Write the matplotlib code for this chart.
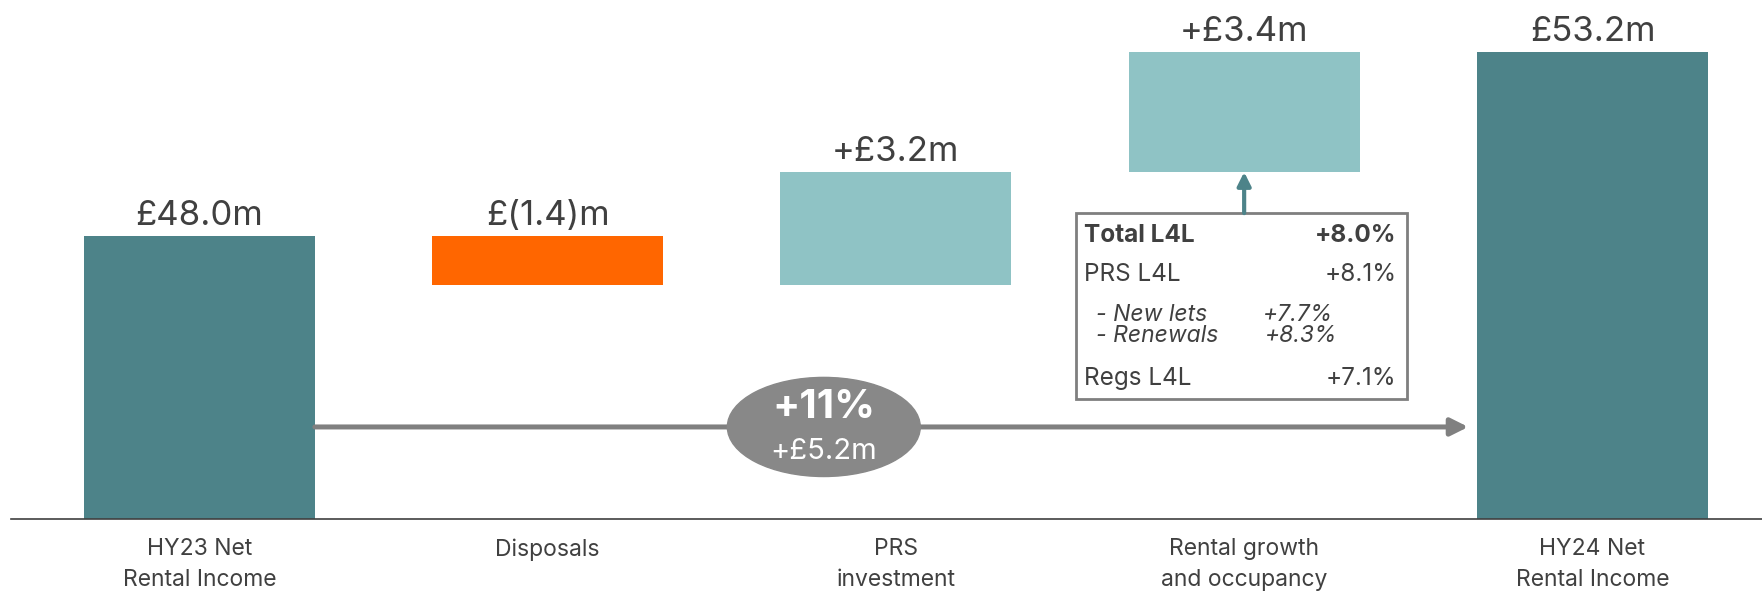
import numpy as np
import matplotlib.pyplot as plt
from matplotlib.patches import Ellipse, Rectangle

# Data
categories = ['HY23 Net\nRental Income', 'Disposals', 'PRS\ninvestment',
              'Rental growth\nand occupancy', 'HY24 Net\nRental Income']
changes = [48.0, -1.4, 3.2, 3.4, 53.2]
is_total = [True, False, False, False, True]
value_labels = ['£48.0m', '£(1.4)m', '+£3.2m', '+£3.4m', '£53.2m']

growth_pct = '+11%'
growth_abs = '+£5.2m'

l4l_rows = ['Total L4L', 'PRS L4L', 'Regs L4L']
l4l_values = ['+8.0%', '+8.1%', '+7.1%']
prs_sub_rows = ['- New lets', '- Renewals']
prs_sub_values = ['+7.7%', '+8.3%']

# Colours
dark_teal = '#4D8389'
light_teal = '#8FC3C5'
orange = '#FF6600'
grey = '#888888'
text_col = '#404040'

plt.rcParams['font.family'] = ['Inter', 'DejaVu Sans']

fig = plt.figure(figsize=(17.62, 5.93), dpi=100)
ax = fig.add_axes([11 / 1762, 74 / 593, 1 - 11 / 1762, 1 - 74 / 593])

x = np.arange(len(categories))
width = 0.663

# Waterfall bottoms/tops
bottoms, tops = [], []
running = 0.0
for val, tot in zip(changes, is_total):
    if tot:
        bottoms.append(40.0)
        tops.append(val)
        running = val
    else:
        new = running + val
        bottoms.append(min(running, new))
        tops.append(max(running, new))
        running = new

colors = []
for val, tot in zip(changes, is_total):
    if tot:
        colors.append(dark_teal)
    elif val < 0:
        colors.append(orange)
    else:
        colors.append(light_teal)

heights = [t - b for t, b in zip(tops, bottoms)]
ax.bar(x, heights, width, bottom=bottoms, color=colors, zorder=2)

for xi, t, lab in zip(x, tops, value_labels):
    ax.annotate(lab, (xi, t), xytext=(0, 3), textcoords='offset points',
                ha='center', va='bottom', fontsize=25, color=text_col)

# Growth arrow from first total to last total
arrow_y = 42.6
ax.annotate('', xy=(x[-1] - width / 2 - 0.025, arrow_y),
            xytext=(x[0] + width / 2, arrow_y),
            arrowprops=dict(arrowstyle='-|>', color='#808080', lw=3.6,
                            mutation_scale=26, shrinkA=0, shrinkB=0),
            zorder=3)
ell = Ellipse((1.793, arrow_y), 0.554, 2.8, color=grey, zorder=4)
ax.add_patch(ell)
ax.text(1.793, arrow_y + 0.55, growth_pct, ha='center', va='center',
        fontsize=29, fontweight='bold', color='white', zorder=5)
ax.text(1.793, arrow_y - 0.68, growth_abs, ha='center', va='center',
        fontsize=21, color='white', zorder=5)

# L4L box
box_x0, box_x1 = 2.517, 3.467
box_y0, box_y1 = 43.39, 48.64
ax.add_patch(Rectangle((box_x0, box_y0), box_x1 - box_x0, box_y1 - box_y0,
                       facecolor='white', edgecolor='#7F7F7F', lw=2, zorder=3))
row_y = [48.0, 46.92, 43.98]
for i, (lab, val) in enumerate(zip(l4l_rows, l4l_values)):
    w = 'bold' if i == 0 else 'normal'
    ax.text(2.540, row_y[i], lab, ha='left', va='center', fontsize=17.5,
            fontweight=w, color=text_col, zorder=4)
    ax.text(3.438, row_y[i], val, ha='right', va='center', fontsize=17.5,
            fontweight=w, color=text_col, zorder=4)
sub_y = [45.76, 45.17]
sub_right = [3.257, 3.269]
for lab, val, yy, xr in zip(prs_sub_rows, prs_sub_values, sub_y, sub_right):
    ax.text(2.574, yy, lab, ha='left', va='center', fontsize=16.5,
            style='italic', color=text_col, zorder=4)
    ax.text(xr, yy, val, ha='right', va='center', fontsize=16.5,
            style='italic', color=text_col, zorder=4)

# Arrow from box to rental growth bar
ax.annotate('', xy=(x[3], bottoms[3]), xytext=(x[3], box_y1),
            arrowprops=dict(arrowstyle='-|>', color=dark_teal, lw=3,
                            mutation_scale=20, shrinkA=0, shrinkB=0),
            zorder=3)

# Axes styling
ax.set_xlim(-0.541, 4.487)
ax.set_ylim(40, 54.66)
for s in ['top', 'right', 'left']:
    ax.spines[s].set_visible(False)
ax.spines['bottom'].set_color(text_col)
ax.spines['bottom'].set_linewidth(1.2)
ax.set_yticks([])
ax.set_xticks(x)
ax.set_xticklabels(categories, fontsize=16.5, color=text_col, linespacing=1.5)
ax.tick_params(axis='x', length=0, pad=14)

fig.savefig('out.png', dpi=100)
